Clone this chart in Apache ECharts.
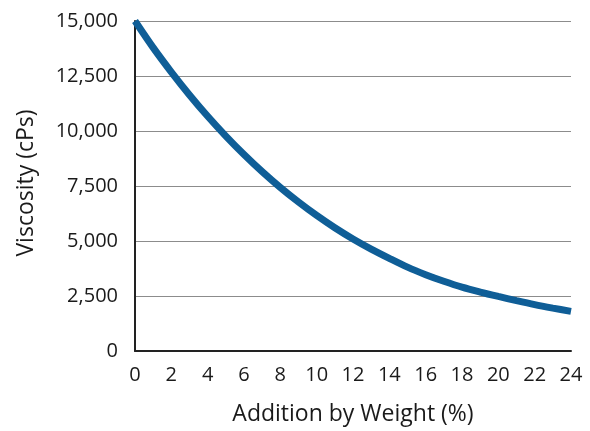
<!DOCTYPE html>
<html>
<head>
<meta charset="utf-8">
<script src="https://cdn.jsdelivr.net/npm/echarts@6/dist/echarts.min.js"></script>
<style>
html,body{margin:0;padding:0;background:#fff;}
#chart{width:590px;height:431px;}
</style>
</head>
<body>
<div id="chart"></div>
<script>
// Data
const additionPct = [0,1,2,3,4,5,6,7,8,9,10,11,12,13,14,15,16,17,18,19,20,21,22,23,24];
const viscosity = [15000,13790,12680,11640,10670,9770,8930,8150,7430,6770,6160,5600,5090,4630,4210,3810,3470,3170,2900,2680,2480,2290,2110,1950,1800];
const yTickLabels = ['0','2,500','5,000','7,500','10,000','12,500','15,000'];
const xTickLabels = ['0','2','4','6','8','10','12','14','16','18','20','22','24'];
const xAxisTitle = 'Addition by Weight (%)';
const yAxisTitle = 'Viscosity (cPs)';

const FONT = 'Open Sans';
const chart = echarts.init(document.getElementById('chart'), null, {renderer:'canvas'});
chart.setOption({
  animation:false,
  backgroundColor:'#ffffff',
  grid:{left:135, right:19, top:21, bottom:75, containLabel:false},
  xAxis:{
    type:'value', min:0, max:24, interval:2,
    name:xAxisTitle, nameLocation:'middle', nameGap:52,
    nameTextStyle:{fontFamily:FONT, fontSize:23, color:'#1a1a1a'},
    axisLine:{show:true, lineStyle:{color:'#222', width:2}},
    axisTick:{show:false},
    splitLine:{show:false},
    axisLabel:{
      margin:14, fontFamily:FONT, fontSize:20, color:'#1a1a1a',
      formatter:(v)=>xTickLabels[Math.round(v/2)] ?? ''
    }
  },
  yAxis:{
    type:'value', min:0, max:15000, interval:2500,
    name:yAxisTitle, nameLocation:'middle', nameGap:97,
    nameTextStyle:{fontFamily:FONT, fontSize:23, color:'#1a1a1a', padding:[0,0,0,6]},
    axisLine:{show:true, lineStyle:{color:'#222', width:2}},
    axisTick:{show:false},
    splitLine:{show:true, lineStyle:{color:'#8c8c8c', width:1}},
    axisLabel:{
      margin:17, fontFamily:FONT, fontSize:20, color:'#1a1a1a',
      formatter:(v)=>yTickLabels[Math.round(v/2500)] ?? ''
    }
  },
  series:[{
    type:'line',
    data:additionPct.map((x,i)=>[x, viscosity[i]]),
    smooth:0.3,
    showSymbol:false,
    lineStyle:{color:'#0f5e97', width:7, cap:'butt'},
    clip:false
  }]
});
</script>
</body>
</html>
